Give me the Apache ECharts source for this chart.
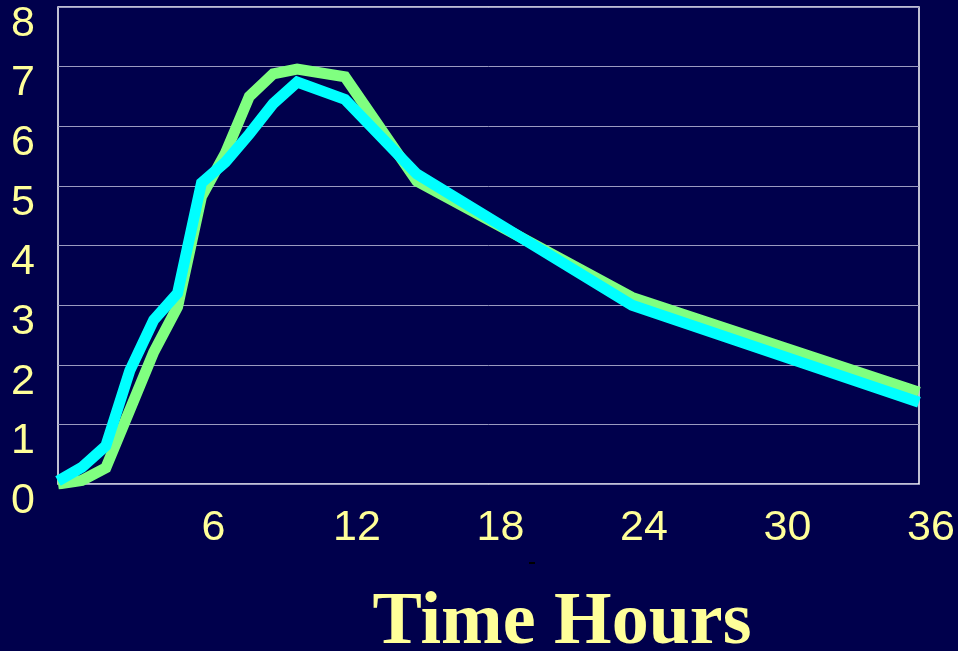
<!DOCTYPE html>
<html>
<head>
<meta charset="utf-8">
<script src="https://cdn.jsdelivr.net/npm/echarts@6/dist/echarts.min.js"></script>
<style>
html,body{margin:0;padding:0;background:#00004c;}
#chart{width:958px;height:651px;}
</style>
</head>
<body>
<div id="chart"></div>
<script>
const hours = [0, 1, 2, 3, 4, 5, 6, 7, 8, 9, 10, 12, 15, 24, 36];
const greenSeries = [0, 0.06, 0.27, 1.24, 2.21, 2.97, 4.82, 5.55, 6.5, 6.88, 6.96, 6.83, 5.08, 3.13, 1.54];
const cyanSeries = [0.05, 0.28, 0.64, 1.9, 2.75, 3.2, 5.05, 5.4, 5.87, 6.38, 6.74, 6.45, 5.2, 3.0, 1.37];
const xTicks = [6, 12, 18, 24, 30, 36];
const axisTitle = 'Time Hours';

const chart = echarts.init(document.getElementById('chart'));
const yellow = '#FFFF99';
const labelFont = 'Liberation Sans, Arial, sans-serif';

chart.setOption({
  backgroundColor: '#00004c',
  animation: false,
  grid: {left: 58, right: 39, top: 7, bottom: 167, show: true, borderColor: '#ffffff', borderWidth: 1.5,
    backgroundColor: 'transparent', containLabel: false, outerBoundsMode: 'none'},
  xAxis: {
    type: 'value', min: 0, max: 36, interval: 6,
    axisLine: {show: false}, axisTick: {show: false}, splitLine: {show: false},
    axisLabel: {
      color: yellow, fontFamily: labelFont, fontSize: 43, margin: 23,
      verticalAlign: 'top', padding: [0, 0, 0, 24], hideOverlap: false,
      formatter: v => xTicks.includes(v) ? String(v) : ''
    }
  },
  yAxis: {
    type: 'value', min: 0, max: 8, interval: 1,
    axisLine: {show: false}, axisTick: {show: false},
    splitLine: {show: true, lineStyle: {color: '#9a9ac0', width: 1}},
    axisLabel: {
      color: yellow, fontFamily: labelFont, fontSize: 43, margin: 23,
      verticalAlign: 'top', lineHeight: 34, hideOverlap: false
    }
  },
  series: [
    {
      type: 'line', data: hours.map((h, i) => [h, greenSeries[i]]),
      showSymbol: false, symbol: 'none',
      lineStyle: {color: '#80FF80', width: 11, join: 'miter'}
    },
    {
      type: 'line', data: hours.map((h, i) => [h, cyanSeries[i]]),
      showSymbol: false, symbol: 'none',
      lineStyle: {color: '#00FFFF', width: 11, join: 'miter'}
    }
  ],
  graphic: [
    {type: 'text', x: 562, y: 624,
      style: {text: axisTitle, fill: yellow, font: 'bold 74px "Liberation Serif", "Times New Roman", serif', align: 'center', verticalAlign: 'middle'}
    },
    {type: 'rect', shape: {x: 529, y: 562, width: 6, height: 2}, style: {fill: '#000000'}}
  ]
});
</script>
</body>
</html>
